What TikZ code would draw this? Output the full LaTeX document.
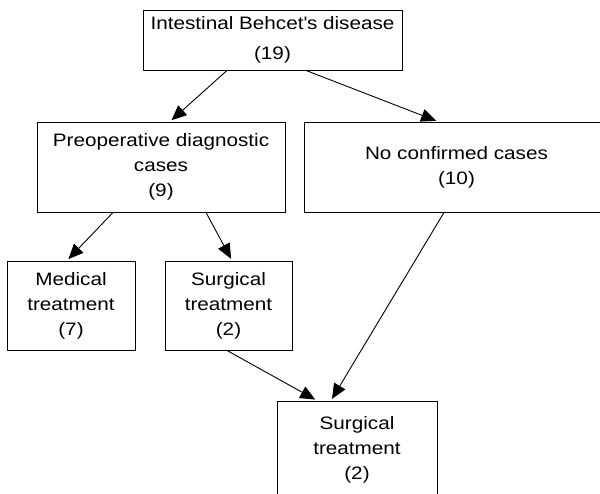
\documentclass[tikz,border=0pt]{standalone}
\usepackage{fontspec}
\setmainfont[FakeStretch=1.15]{Liberation Sans}
\usetikzlibrary{arrows.meta}
\tikzset{
  box/.style={draw=black, line width=0.9pt, inner sep=0pt, align=center,
    font=\fontsize{18}{25}\selectfont},
  arr/.style={line width=0.9pt, -{Triangle[length=15pt,width=13pt]}, shorten >=2pt}
}
\begin{document}
\begin{tikzpicture}[x=1pt,y=-1pt]
\useasboundingbox (0,0) rectangle (600,493);
\clip (0,0) rectangle (600,493);
\fill[white] (0,0) rectangle (600,493);
\node[box, minimum width=259pt, minimum height=60pt,
  font=\fontsize{18}{30}\selectfont] (top) at (272.5,40) {Intestinal Behcet\textquotesingle s disease\\(19)};
\node[box, minimum width=248pt, minimum height=90pt] (preop) at (161,167) {Preoperative diagnostic\\cases\\(9)};
\node[box, minimum width=305pt, minimum height=90pt] (noconf) at (456.5,167) {No confirmed cases\\(10)};
\node[box, minimum width=128pt, minimum height=89pt] (med) at (71,305.5) {Medical\\treatment\\(7)};
\node[box, minimum width=127pt, minimum height=89pt] (surg) at (228.5,305.5) {Surgical\\treatment\\(2)};
\node[box, minimum width=160pt, minimum height=98pt] (bottom) at (357,450) {Surgical\\treatment\\(2)};
\draw[arr] ([xshift=-45.5pt]top.south) -- ([xshift=9pt]preop.north);
\draw[arr] ([xshift=33.5pt]top.south) -- ([xshift=-18.5pt]noconf.north);
\draw[arr] ([xshift=-48pt]preop.south) -- ([xshift=-4pt]med.north);
\draw[arr] ([xshift=45pt]preop.south) -- ([xshift=3.5pt]surg.north);
\draw[arr] ([xshift=-12.5pt]noconf.south) -- ([xshift=-26pt]bottom.north);
\draw[arr] ([xshift=-1.5pt]surg.south) -- ([xshift=-40pt]bottom.north);
\end{tikzpicture}
\end{document}
